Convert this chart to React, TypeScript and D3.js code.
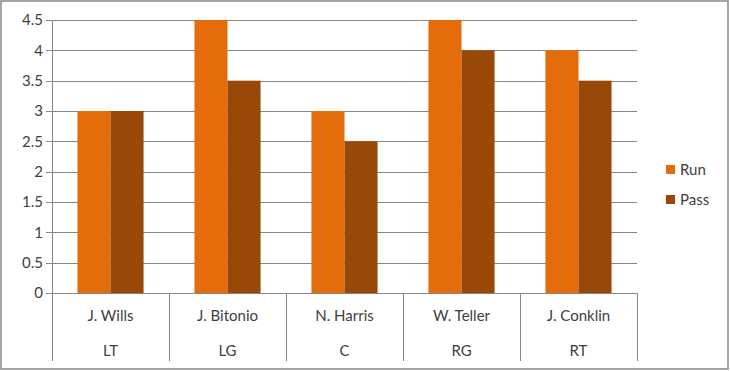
import React from "react";
import * as d3 from "d3";

const names = ["J. Wills", "J. Bitonio", "N. Harris", "W. Teller", "J. Conklin"];
const positions = ["LT", "LG", "C", "RG", "RT"];
const runValues = [3, 4.5, 3, 4.5, 4];
const passValues = [3, 3.5, 2.5, 4, 3.5];
const seriesNames = ["Run", "Pass"];
const seriesColors = ["#E46C0A", "#984807"];
const yTicks = [0, 0.5, 1, 1.5, 2, 2.5, 3, 3.5, 4, 4.5];

export default function App() {
  const W = 730, H = 371;
  const left = 52, right = 637, top = 20, bottom = 293;
  const x = d3.scaleBand<string>().domain(names).range([left, right]);
  const inner = d3.scaleBand<string>().domain(seriesNames).range([0, x.bandwidth()]).paddingInner(0).paddingOuter(0.77);
  const y = d3.scaleLinear().domain([0, 4.5]).range([bottom, top]);
  const font = "Lato, 'Open Sans', sans-serif";
  const grid = "#868686";
  const series = [runValues, passValues];
  return (
    <svg width={W} height={H} style={{ position: "absolute", left: 0, top: 0 }}>
      <rect x={0} y={0} width={W} height={H} fill="white" />
      <rect x={1} y={1} width={W - 3} height={H - 3} fill="none" stroke={grid} strokeWidth={1.5} />
      {yTicks.map((t) => (
        <g key={t}>
          <line x1={left - 6} x2={right} y1={Math.round(y(t)) + 0.5} y2={Math.round(y(t)) + 0.5} stroke={grid} strokeWidth={1} />
          <text x={left - 9} y={y(t)} dy="0.35em" textAnchor="end" fontFamily={font} fontSize={15} fill="#404040">{t}</text>
        </g>
      ))}
      <line x1={left + 0.5} x2={left + 0.5} y1={top} y2={bottom} stroke={grid} />
      {names.map((n, i) => (
        <g key={n}>
          {series.map((vals, s) => (
            <rect key={s} x={(x(n) as number) + (inner(seriesNames[s]) as number)} width={inner.bandwidth()} y={y(vals[i])} height={y(0) - y(vals[i])} fill={seriesColors[s]} />
          ))}
          <text x={(x(n) as number) + x.bandwidth() / 2} y={321} textAnchor="middle" fontFamily={font} fontSize={15} fill="#404040">{n}</text>
          <text x={(x(n) as number) + x.bandwidth() / 2} y={356} textAnchor="middle" fontFamily={font} fontSize={15} fill="#404040">{positions[i]}</text>
        </g>
      ))}
      {x.range().concat(names.slice(1).map((n) => x(n) as number)).map((xx, i) => (
        <line key={i} x1={Math.round(xx) + 0.5} x2={Math.round(xx) + 0.5} y1={bottom} y2={361} stroke={grid} />
      ))}
      <line x1={left} x2={right} y1={bottom + 0.5} y2={bottom + 0.5} stroke={grid} />
      {seriesNames.map((s, i) => (
        <g key={s}>
          <rect x={666} y={165 + i * 30} width={9} height={9} fill={seriesColors[i]} />
          <text x={680} y={170 + i * 30} dy="0.35em" fontFamily={font} fontSize={15} fill="#404040">{s}</text>
        </g>
      ))}
    </svg>
  );
}
